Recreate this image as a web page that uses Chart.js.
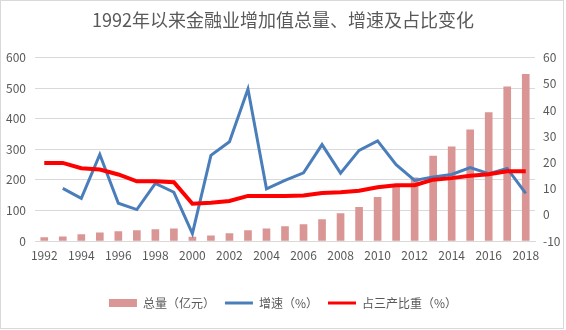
<!DOCTYPE html>
<html>
<head>
<meta charset="utf-8">
<script src="https://cdn.jsdelivr.net/npm/chart.js@4/dist/chart.umd.min.js"></script>
<style>
  html, body { margin: 0; padding: 0; background: #ffffff; }
  #wrap { position: absolute; left: 0; top: 0; width: 566px; height: 330px; }
</style>
</head>
<body>
<div id="wrap"><canvas id="c" width="566" height="330"></canvas></div>
<script>
// 年份
const years = ['1992','1993','1994','1995','1996','1997','1998','1999','2000','2001','2002','2003','2004','2005','2006','2007','2008','2009','2010','2011','2012','2013','2014','2015','2016','2017','2018'];
// 金融业增加值总量（亿元）
const totalValue = [11, 14, 21, 27, 31, 34, 37, 40, 13, 17, 24, 34, 40, 47, 54, 70, 90, 110, 143, 180, 207, 278, 308, 364, 420, 504, 545];
// 增速（%）
const growthRate = [null, 10.1, 6.3, 23.0, 4.4, 2.0, 12.0, 8.6, -7.2, 22.7, 27.9, 48.0, 9.9, 13.1, 16.0, 26.8, 15.9, 24.6, 28.2, 19.1, 13.1, 14.4, 15.4, 18.0, 15.7, 17.7, 8.2];
// 占三产比重（%）
const tertiaryShare = [19.8, 19.8, 17.8, 17.3, 15.4, 12.8, 12.8, 12.4, 4.2, 4.6, 5.3, 7.2, 7.2, 7.2, 7.4, 8.3, 8.6, 9.2, 10.5, 11.3, 11.3, 13.4, 14.0, 14.9, 15.5, 16.6, 16.6];
// 坐标轴刻度
const leftTicks = { min: 0, max: 600, step: 100 };
const rightTicks = { min: -10, max: 60, step: 10 };

const textColor = '#595959';
const fontFamily = '"Noto Sans CJK SC", "Noto Sans", sans-serif';

const frame = {
  id: 'frame',
  afterDraw(chart) {
    const ctx = chart.ctx;
    ctx.save();
    ctx.strokeStyle = '#d9d9d9';
    ctx.lineWidth = 1;
    ctx.strokeRect(0.5, 0.5, 563, 328);
    ctx.restore();
  }
};

new Chart(document.getElementById('c'), {
  data: {
    labels: years,
    datasets: [
      {
        type: 'bar',
        label: '总量（亿元）',
        data: totalValue,
        yAxisID: 'y',
        backgroundColor: '#d99694',
        borderWidth: 0,
        barThickness: 7,
        order: 3
      },
      {
        type: 'line',
        label: '增速（%）',
        data: growthRate,
        yAxisID: 'y1',
        borderColor: '#4a7ebb',
        backgroundColor: '#4a7ebb',
        borderWidth: 3,
        pointRadius: 0,
        tension: 0,
        spanGaps: false,
        order: 2
      },
      {
        type: 'line',
        label: '占三产比重（%）',
        data: tertiaryShare,
        yAxisID: 'y1',
        borderColor: '#ff0000',
        backgroundColor: '#ff0000',
        borderWidth: 4,
        pointRadius: 0,
        tension: 0,
        order: 1
      }
    ]
  },
  options: {
    responsive: false,
    animation: false,
    layout: { padding: { left: 0, right: 0, top: 0, bottom: 11 } },
    plugins: {
      tooltip: { enabled: false },
      title: {
        display: true,
        text: '1992年以来金融业增加值总量、增速及占比变化',
        color: textColor,
        font: { family: fontFamily, size: 18, weight: 'normal' },
        padding: { top: 9, bottom: 27 }
      },
      legend: {
        position: 'bottom',
        labels: {
          color: textColor,
          font: { family: fontFamily, size: 12 },
          usePointStyle: true,
          pointStyleWidth: 28,
          boxHeight: 8,
          padding: 10,
          sort: (a, b) => a.datasetIndex - b.datasetIndex,
          generateLabels(chart) {
            return chart.data.datasets.map((ds, i) => ({
              text: ds.label,
              fillStyle: ds.type === 'bar' ? ds.backgroundColor : ds.borderColor,
              strokeStyle: ds.type === 'bar' ? ds.backgroundColor : ds.borderColor,
              lineWidth: ds.type === 'bar' ? 0 : 3,
              pointStyle: ds.type === 'bar' ? 'rect' : 'line',
              fontColor: textColor,
              hidden: false,
              datasetIndex: i
            }));
          }
        }
      }
    },
    scales: {
      x: {
        grid: { display: false, drawTicks: false },
        border: { display: true, color: '#d9d9d9' },
        ticks: {
          color: textColor,
          font: { family: fontFamily, size: 12 },
          autoSkip: false,
          maxRotation: 0,
          padding: 7,
          callback: function (v, i) { return i % 2 === 0 ? this.getLabelForValue(v) : ''; }
        },
        afterFit(scale) { scale.height = 46; }
      },
      y: {
        position: 'left',
        min: leftTicks.min,
        max: leftTicks.max,
        ticks: {
          stepSize: leftTicks.step,
          color: textColor,
          font: { family: fontFamily, size: 12 },
          padding: 9
        },
        grid: { color: '#d9d9d9', drawTicks: false },
        border: { display: false },
        afterFit(scale) { scale.width = 35; }
      },
      y1: {
        position: 'right',
        min: rightTicks.min,
        max: rightTicks.max,
        ticks: {
          stepSize: rightTicks.step,
          color: textColor,
          font: { family: fontFamily, size: 12 },
          padding: 8
        },
        grid: { display: false, drawTicks: false },
        border: { display: false },
        afterFit(scale) { scale.width = 31; }
      }
    }
  },
  plugins: [frame]
});
</script>
</body>
</html>
